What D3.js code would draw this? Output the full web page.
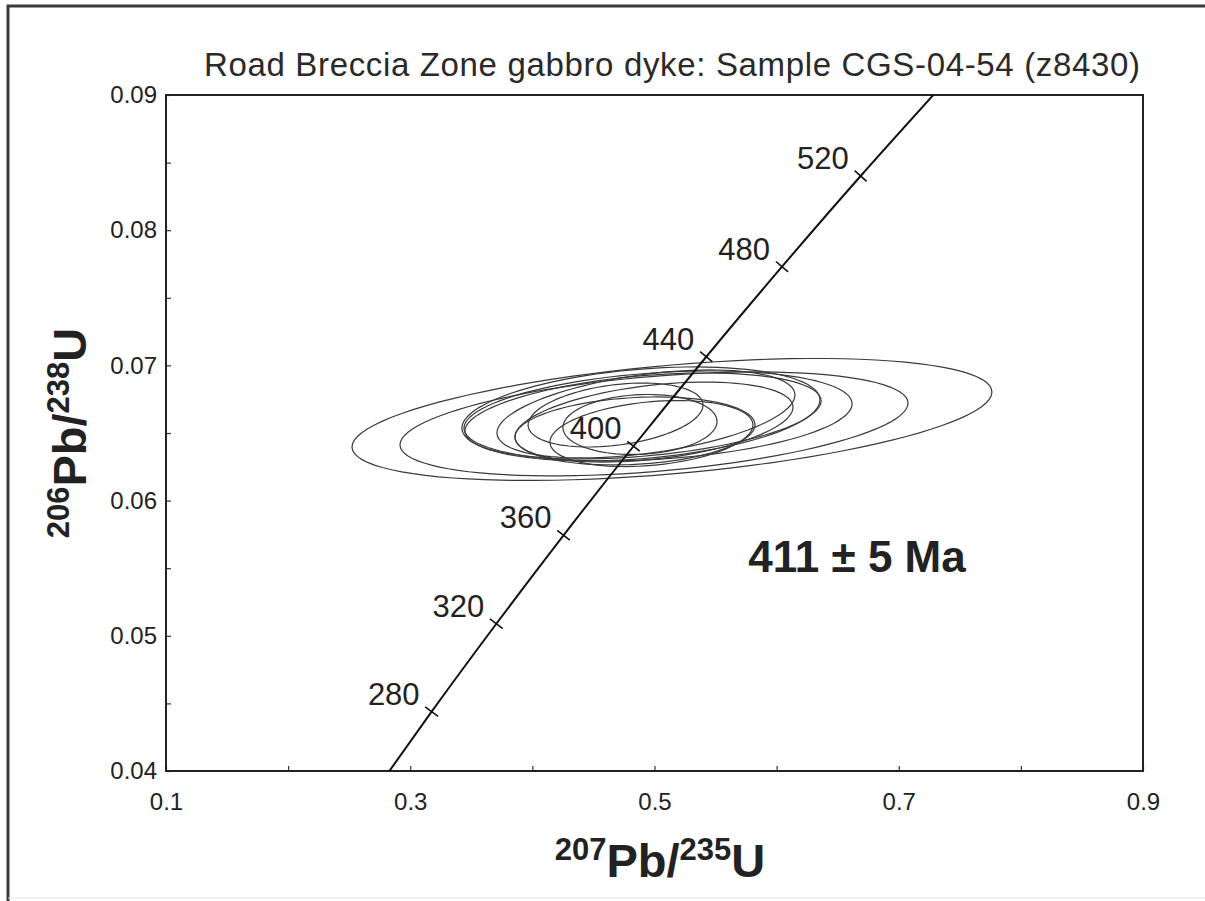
<!DOCTYPE html>
<html>
<head>
<meta charset="utf-8">
<script src="https://cdn.jsdelivr.net/npm/d3@7"></script>
<style>
  body { margin: 0; background: #fff; }
  svg { font-family: "Liberation Sans", Arial, sans-serif; }
</style>
</head>
<body>
<div class="chart"></div>
<script>
// Concordia ages (Ma) and their ratios
const concAges = [240, 280, 320, 360, 400, 440, 480, 520, 560];
const conc207 = [0.2666, 0.3175, 0.3705, 0.4255, 0.4828, 0.5424, 0.6044, 0.6688, 0.7359];
const conc206 = [0.03793, 0.04439, 0.05089, 0.05743, 0.06402, 0.07064, 0.07730, 0.08401, 0.09076];
const labelledAges = [280, 320, 360, 400, 440, 480, 520];

// Analyses: 207Pb/235U, 206Pb/238U, 2s errors and error correlation
const ellX = [0.5143, 0.4996, 0.4889, 0.5029, 0.4906, 0.4930, 0.4996, 0.4840, 0.4681, 0.4975, 0.4881];
const ellY = [0.06600, 0.06567, 0.06641, 0.06626, 0.06626, 0.06641, 0.06581, 0.06515, 0.06633, 0.06496, 0.06563];
const errX = [0.2620, 0.2080, 0.1466, 0.1589, 0.1458, 0.1220, 0.1138, 0.0983, 0.0716, 0.0831, 0.0631];
const errY = [0.004512, 0.003846, 0.003476, 0.003328, 0.003180, 0.003254, 0.002959, 0.002515, 0.002367, 0.002441, 0.002219];
const rho = [0.45, 0.40, 0.30, 0.27, 0.35, 0.43, 0.37, 0.18, 0.31, 0.26, 0.10];

// Axis ticks
const xTicks = [0.1, 0.2, 0.3, 0.4, 0.5, 0.6, 0.7, 0.8, 0.9];
const xLabels = [0.1, 0.3, 0.5, 0.7, 0.9];
const yTicks = [0.04, 0.045, 0.05, 0.055, 0.06, 0.065, 0.07, 0.075, 0.08, 0.085, 0.09];
const yLabels = [0.04, 0.05, 0.06, 0.07, 0.08, 0.09];

const W = 1205, H = 901;
const svg = d3.select(".chart").append("svg")
    .attr("width", W)
    .attr("height", H);

// outer frame (top and left edges)
svg.append("path")
    .attr("d", `M8,${H} L8,6 L${W},6`)
    .attr("fill", "none")
    .attr("stroke", "#3a3a3a")
    .attr("stroke-width", 3);
svg.append("line")
    .attr("x1", 8).attr("x2", W).attr("y1", 898).attr("y2", 898)
    .attr("stroke", "#e4e4e4").attr("stroke-width", 1);

const x = d3.scaleLinear().domain([0.1, 0.9]).range([166, 1143]);
const y = d3.scaleLinear().domain([0.04, 0.09]).range([771, 95]);

// title
svg.append("text")
    .attr("x", 672)
    .attr("y", 76)
    .attr("text-anchor", "middle")
    .attr("textLength", 936)
    .attr("lengthAdjust", "spacing")
    .style("font-size", "33px")
    .style("fill", "#2a2a2a")
    .text("Road Breccia Zone gabbro dyke: Sample CGS-04-54 (z8430)");

svg.append("clipPath").attr("id", "plotClip")
    .append("rect")
    .attr("x", x(0.1)).attr("y", y(0.09))
    .attr("width", x(0.9) - x(0.1))
    .attr("height", y(0.04) - y(0.09));

// Axes
const xAxis = svg.append("g")
    .attr("transform", `translate(0, ${y(0.04)})`)
    .call(d3.axisBottom(x)
        .tickValues(xTicks)
        .tickSizeInner(-5)
        .tickSizeOuter(0)
        .tickPadding(22)
        .tickFormat(d => xLabels.includes(d) ? d : ""));

const yAxis = svg.append("g")
    .attr("transform", `translate(${x(0.1)}, 0)`)
    .call(d3.axisLeft(y)
        .tickValues(yTicks)
        .tickSizeInner(-5)
        .tickSizeOuter(0)
        .tickPadding(9)
        .tickFormat(d => yLabels.includes(d) ? d : ""));

[xAxis, yAxis].forEach(g => {
    g.select(".domain").remove();
    g.selectAll("line").attr("stroke", "#333").attr("stroke-width", 1.2);
    g.selectAll("text").style("font-size", "24px").style("fill", "#222")
        .attr("font-family", null);
});

// plot frame
svg.append("rect")
    .attr("x", x(0.1)).attr("y", y(0.09))
    .attr("width", x(0.9) - x(0.1))
    .attr("height", y(0.04) - y(0.09))
    .attr("fill", "none")
    .attr("stroke", "#222")
    .attr("stroke-width", 2);

const plot = svg.append("g").attr("clip-path", "url(#plotClip)");

// error ellipses
const steps = d3.range(0, 101).map(i => i / 100 * 2 * Math.PI);
const ellipseLine = d3.line().x(p => x(p[0])).y(p => y(p[1]));
ellX.forEach((cx, i) => {
    const pts = steps.map(t => [
        cx + errX[i] * Math.cos(t),
        ellY[i] + errY[i] * (rho[i] * Math.cos(t) + Math.sqrt(1 - rho[i] * rho[i]) * Math.sin(t))
    ]);
    plot.append("path")
        .attr("d", ellipseLine(pts) + "Z")
        .attr("fill", "none")
        .attr("stroke", "#3a3a3a")
        .attr("stroke-width", 1.2);
});

// concordia curve
const concData = concAges.map((a, i) => ({ age: a, r7: conc207[i], r6: conc206[i] }));
plot.append("path")
    .datum(concData)
    .attr("d", d3.line().x(d => x(d.r7)).y(d => y(d.r6)).curve(d3.curveNatural))
    .attr("fill", "none")
    .attr("stroke", "#111")
    .attr("stroke-width", 2);

// age ticks and labels
concData.filter(d => labelledAges.includes(d.age)).forEach(d => {
    const i = concAges.indexOf(d.age);
    const dx = x(conc207[i + 1]) - x(conc207[i - 1]);
    const dy = y(conc206[i + 1]) - y(conc206[i - 1]);
    const len = Math.hypot(dx, dy);
    const nx = -dy / len * 8, ny = dx / len * 8;
    const px = x(d.r7), py = y(d.r6);
    plot.append("line")
        .attr("x1", px - nx).attr("y1", py - ny)
        .attr("x2", px + nx).attr("y2", py + ny)
        .attr("stroke", "#111")
        .attr("stroke-width", 1.6);
    svg.append("text")
        .attr("x", px - 12)
        .attr("y", py - 7)
        .attr("text-anchor", "end")
        .style("font-size", "31px")
        .style("fill", "#222")
        .text(d.age);
});

// age result
svg.append("text")
    .attr("x", 857)
    .attr("y", 572)
    .attr("text-anchor", "middle")
    .style("font-size", "44px")
    .style("font-weight", "bold")
    .style("fill", "#222")
    .text("411 ± 5 Ma");

// axis titles
function ratioTitle(sel, top, bottom) {
    sel.style("font-weight", "bold").style("fill", "#222");
    sel.append("tspan").attr("dy", -17).style("font-size", "31px").text(top);
    sel.append("tspan").attr("dy", 17).style("font-size", "47px").text("Pb/");
    sel.append("tspan").attr("dy", -17).style("font-size", "31px").text(bottom);
    sel.append("tspan").attr("dy", 17).style("font-size", "47px").text("U");
}

svg.append("text")
    .attr("x", 660)
    .attr("y", 877)
    .attr("text-anchor", "middle")
    .call(ratioTitle, "207", "235");

svg.append("text")
    .attr("transform", `translate(86, 433) rotate(-90)`)
    .attr("text-anchor", "middle")
    .call(ratioTitle, "206", "238");
</script>
</body>
</html>
